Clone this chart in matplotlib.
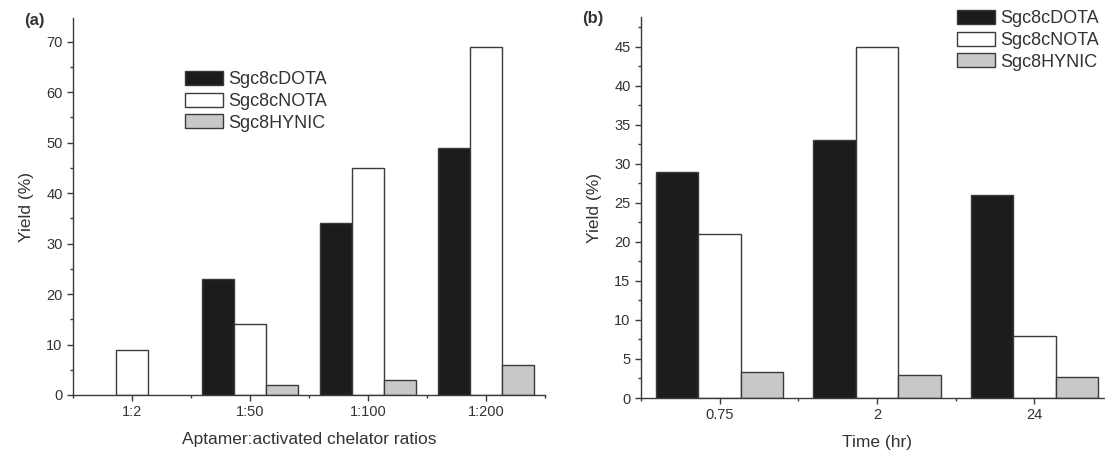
import matplotlib
matplotlib.use("Agg")
import matplotlib.pyplot as plt
import numpy as np
from matplotlib.ticker import MultipleLocator, FixedLocator

plt.rcParams['font.family'] = ['Liberation Sans', 'DejaVu Sans']

# panel (a) data
ratios = ['1:2', '1:50', '1:100', '1:200']
dota_a = [0, 23, 34, 49]
nota_a = [9, 14, 45, 69]
hynic_a = [0, 2, 3, 6]

# panel (b) data
times = ['0.75', '2', '24']
dota_b = [29, 33, 26]
nota_b = [21, 45, 8]
hynic_b = [3.3, 3.0, 2.7]

series_names = ['Sgc8cDOTA', 'Sgc8cNOTA', 'Sgc8HYNIC']
face = ['#1c1c1c', 'white', '#c8c8c8']
edge = '#3a3a3a'
text_c = '#333333'
W = 1105
H = 453

fig = plt.figure(figsize=(W / 100, H / 100), dpi=100)


def style_axis(ax, ylim, major, minor, n):
    ax.set_ylim(*ylim)
    ax.set_xlim(0.5, n + 0.5)
    for s in ['top', 'right']:
        ax.spines[s].set_visible(False)
    for s in ['left', 'bottom']:
        ax.spines[s].set_color(edge)
        ax.spines[s].set_linewidth(1.0)
    ax.yaxis.set_major_locator(MultipleLocator(major))
    ax.yaxis.set_minor_locator(MultipleLocator(minor))
    ax.xaxis.set_major_locator(FixedLocator(np.arange(1, n + 1)))
    ax.xaxis.set_minor_locator(FixedLocator(np.arange(0.5, n + 1, 1.0)))
    ax.tick_params(axis='both', which='major', direction='out', length=4,
                   width=1, color=edge, labelsize=10.5, labelcolor=text_c)
    ax.tick_params(axis='both', which='minor', direction='out', length=2.5,
                   width=1, color=edge)


def draw_bars(ax, groups, values):
    x = np.arange(1, len(groups) + 1)
    w = 0.27
    for k, vals in enumerate(values):
        vals = np.array(vals, dtype=float)
        lw = np.where(vals > 0, 1.0, 0.0)
        ax.bar(x + (k - 1) * w, vals, width=w, color=face[k], edgecolor=edge,
               linewidth=lw, label=series_names[k])
    ax.set_xticks(x)
    ax.set_xticklabels(groups)


def add_legend(ax, x0, y0):
    leg = ax.legend(loc='upper left', bbox_to_anchor=(x0 / W, 1 - y0 / H),
                    bbox_transform=fig.transFigure, frameon=False, fontsize=13,
                    handlelength=2.1, handleheight=0.8, labelspacing=0.25,
                    handletextpad=0.3, borderpad=0, labelcolor=text_c)
    for h in leg.legend_handles:
        h.set_linewidth(1.0)
        h.set_edgecolor(edge)


# panel (a)
ax1 = fig.add_axes([73 / W, 1 - 395 / H, 472 / W, 377 / H])
draw_bars(ax1, ratios, [dota_a, nota_a, hynic_a])
style_axis(ax1, (0, 74.7), 10, 5, len(ratios))
ax1.set_xlabel('Aptamer:activated chelator ratios', fontsize=12.5, color=text_c, labelpad=9)
ax1.set_ylabel('Yield (%)', fontsize=12.5, color=text_c, labelpad=9)
add_legend(ax1, 176, 62)
fig.text(24 / W, 1 - 21 / H, '(a)', fontsize=12, fontweight='bold', color=text_c,
         va='center', ha='left')

# panel (b)
ax2 = fig.add_axes([641 / W, 1 - 398 / H, 472 / W, 381 / H])
draw_bars(ax2, times, [dota_b, nota_b, hynic_b])
style_axis(ax2, (0, 48.8), 5, 2.5, len(times))
ax2.set_xlabel('Time (hr)', fontsize=12.5, color=text_c, labelpad=9)
ax2.set_ylabel('Yield (%)', fontsize=12.5, color=text_c, labelpad=9)
add_legend(ax2, 948, 1)
fig.text(582 / W, 1 - 19 / H, '(b)', fontsize=12, fontweight='bold', color=text_c,
         va='center', ha='left')

fig.savefig('out.png', dpi=100)
